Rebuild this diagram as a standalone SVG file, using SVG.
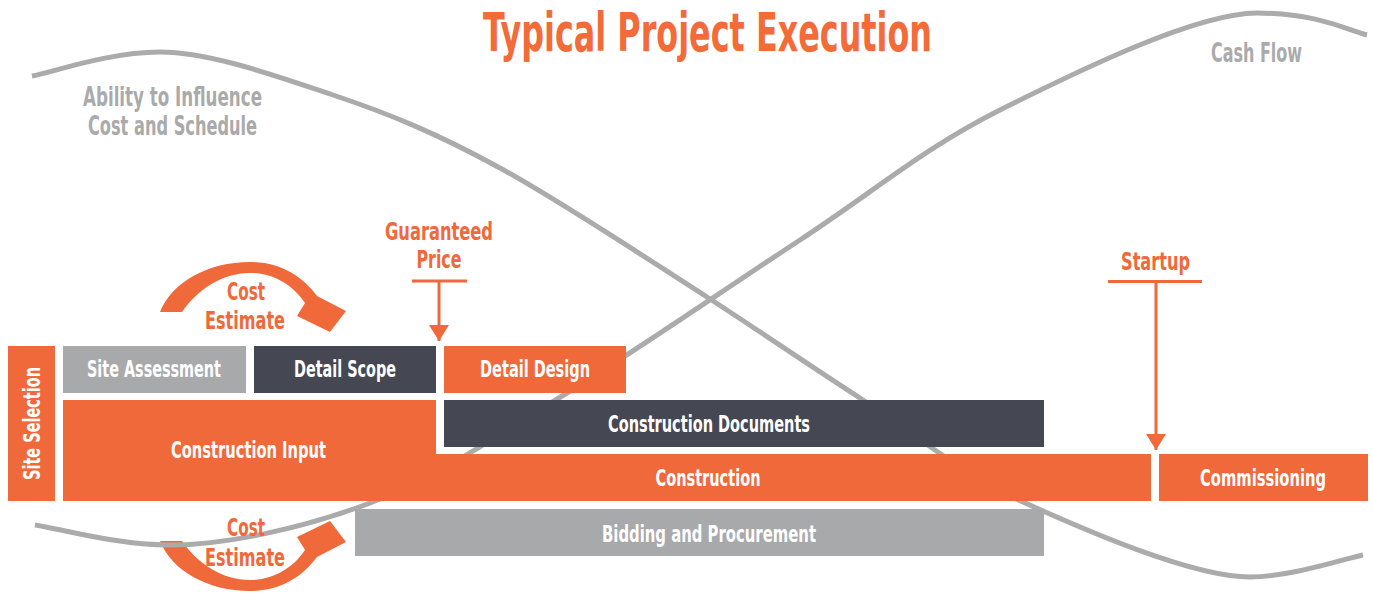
<svg xmlns="http://www.w3.org/2000/svg" xmlns:xlink="http://www.w3.org/1999/xlink" width="1373" height="593" viewBox="0 0 1373 593">
  <defs>
    <style>
      text { font-family: "Liberation Sans Narrow", "DejaVu Sans Condensed", "Roboto Condensed", "Liberation Sans", sans-serif; font-weight: bold; font-stretch: condensed; text-anchor: middle; }
      .title { font-size: 54px; fill: #f26b38; }
      .curve-label { font-size: 27px; fill: #aaaaab; }
      .marker-label { font-size: 25px; fill: #f0693a; }
      .box-label { font-size: 23px; fill: #ffffff; }
      .curve { fill: none; stroke: #ababab; stroke-width: 5; stroke-linecap: butt; }
      .orange { fill: #f0693a; }
      .dark { fill: #454853; }
      .grey { fill: #a8a9ab; }
      .milestone { stroke: #f0693a; stroke-width: 3; fill: none; }
    </style>
    <marker id="arrowhead" markerUnits="userSpaceOnUse" markerWidth="16" markerHeight="20" viewBox="0 0 16 20" refX="16" refY="10" orient="auto">
      <path d="M0,0 L16,10 L0,20 Z" fill="#f0693a"/>
    </marker>
    <!-- curved "Cost Estimate" arrow: tapered arc ending in a wide head -->
    <path id="estimate-arrow" d="M160,312 C172,282 208,262 250,262 C281,262 303,277 317,296 L346,311 L330,332 L297,316 L305,303 C293,285 273,273 250,273 C222,273 197,290 182,312 Z"/>
  </defs>

  <rect width="1373" height="593" fill="#ffffff"/>

  <!-- estimate arrows sit under the trend curves -->
  <g id="cost-estimate-arrows" class="orange">
    <use xlink:href="#estimate-arrow"/>
    <use xlink:href="#estimate-arrow" transform="translate(0,853) scale(1,-1)"/>
  </g>

  <!-- trend curves -->
  <g id="curves">
    <path id="influence-curve" class="curve" d="M32,76 C53,72 110,52 160,52 C210,52 276,76 333,95 C390,114 438,134 500,168 C562,202 646,258 707,297 C767,336 810,366 863,400 C916,434 958,472 1023,502 C1087,531 1193,577 1250,577 C1290,577 1344,559 1363,555"/>
    <path id="cash-flow-curve" class="curve" d="M35,525 C57,528 115,545 170,545 C226,545 304,528 370,503 C436,478 495,437 567,393 C639,349 728,287 800,240 C872,193 924,148 1000,110 C1076,72 1196,13 1257,13 C1318,13 1349,31 1367,35"/>
  </g>

  <text class="title" x="707.5" y="51" textLength="449" lengthAdjust="spacingAndGlyphs">Typical Project Execution</text>

  <g id="influence-label">
    <text class="curve-label" x="172.5" y="106" textLength="179" lengthAdjust="spacingAndGlyphs">Ability to Influence</text>
    <text class="curve-label" x="172.5" y="135" textLength="169" lengthAdjust="spacingAndGlyphs">Cost and Schedule</text>
  </g>
  <g id="cash-flow-label">
    <text class="curve-label" x="1256.5" y="61.5" textLength="91" lengthAdjust="spacingAndGlyphs">Cash Flow</text>
  </g>

  <g id="estimate-labels">
    <text class="marker-label" x="246" y="300" textLength="38" lengthAdjust="spacingAndGlyphs">Cost</text>
    <text class="marker-label" x="245" y="329" textLength="80" lengthAdjust="spacingAndGlyphs">Estimate</text>
    <text class="marker-label" x="246" y="536" textLength="38" lengthAdjust="spacingAndGlyphs">Cost</text>
    <text class="marker-label" x="245" y="566" textLength="80" lengthAdjust="spacingAndGlyphs">Estimate</text>
  </g>

  <!-- phase boxes -->
  <g id="site-selection">
    <rect class="orange" x="8" y="346" width="47" height="155"/>
    <text class="box-label" transform="translate(40,423.5) rotate(-90)" x="0" y="0" textLength="113" lengthAdjust="spacingAndGlyphs">Site Selection</text>
  </g>
  <g id="site-assessment">
    <rect class="grey" x="63" y="346" width="183" height="47"/>
    <text class="box-label" x="154" y="377" textLength="134" lengthAdjust="spacingAndGlyphs">Site Assessment</text>
  </g>
  <g id="detail-scope">
    <rect class="dark" x="254" y="346" width="182" height="47"/>
    <text class="box-label" x="345" y="377" textLength="102" lengthAdjust="spacingAndGlyphs">Detail Scope</text>
  </g>
  <g id="detail-design">
    <rect class="orange" x="444" y="346" width="182" height="47"/>
    <text class="box-label" x="535" y="377" textLength="110" lengthAdjust="spacingAndGlyphs">Detail Design</text>
  </g>
  <g id="construction-input">
    <rect class="orange" x="63" y="400" width="373" height="101"/>
    <text class="box-label" x="248.5" y="458" textLength="155" lengthAdjust="spacingAndGlyphs">Construction Input</text>
  </g>
  <g id="construction-documents">
    <rect class="dark" x="444" y="400" width="600" height="47"/>
    <text class="box-label" x="709" y="432" textLength="202" lengthAdjust="spacingAndGlyphs">Construction Documents</text>
  </g>
  <g id="construction">
    <rect class="orange" x="436" y="454" width="715" height="47"/>
    <text class="box-label" x="708" y="486" textLength="105" lengthAdjust="spacingAndGlyphs">Construction</text>
  </g>
  <g id="commissioning">
    <rect class="orange" x="1159" y="454" width="209" height="47"/>
    <text class="box-label" x="1263" y="486" textLength="126" lengthAdjust="spacingAndGlyphs">Commissioning</text>
  </g>
  <g id="bidding-procurement">
    <rect class="grey" x="355" y="509" width="689" height="47"/>
    <text class="box-label" x="709" y="542" textLength="214" lengthAdjust="spacingAndGlyphs">Bidding and Procurement</text>
  </g>

  <!-- milestone pointers -->
  <g id="connectors">
    <g id="guaranteed-price">
      <text class="marker-label" x="439" y="240" textLength="108" lengthAdjust="spacingAndGlyphs">Guaranteed</text>
      <text class="marker-label" x="439" y="268" textLength="45" lengthAdjust="spacingAndGlyphs">Price</text>
      <line class="milestone" x1="412" y1="281" x2="467" y2="281"/>
      <line class="milestone" x1="439" y1="281" x2="439" y2="341" marker-end="url(#arrowhead)"/>
    </g>
    <g id="startup">
      <text class="marker-label" x="1155.5" y="270" textLength="69" lengthAdjust="spacingAndGlyphs">Startup</text>
      <line class="milestone" x1="1108" y1="281.5" x2="1202" y2="281.5"/>
      <line class="milestone" x1="1156" y1="281.5" x2="1156" y2="450" marker-end="url(#arrowhead)"/>
    </g>
  </g>
</svg>
